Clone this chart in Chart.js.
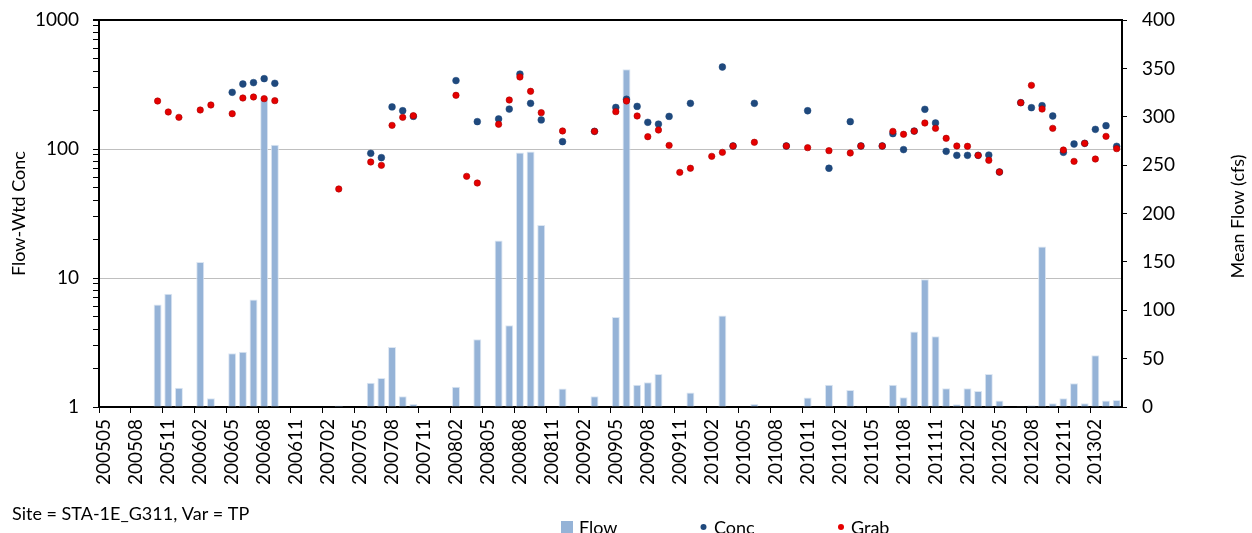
<!DOCTYPE html>
<html>
<head>
<meta charset="utf-8">
<script src="https://cdn.jsdelivr.net/npm/chart.js@4.4.0/dist/chart.umd.min.js"></script>
<style>
  html, body { margin: 0; padding: 0; background: #fff; overflow: hidden; }
  #wrap { width: 1252px; height: 533px; }
</style>
</head>
<body>
<div id="wrap"><canvas id="flowConc" width="1252" height="533"></canvas></div>
<script>
// Setup
const FONT = 'Lato, "Open Sans", sans-serif'
const n = null

const months = [
    '200505','200506','200507','200508','200509','200510','200511','200512',
    '200601','200602','200603','200604','200605','200606','200607','200608','200609','200610','200611','200612',
    '200701','200702','200703','200704','200705','200706','200707','200708','200709','200710','200711','200712',
    '200801','200802','200803','200804','200805','200806','200807','200808','200809','200810','200811','200812',
    '200901','200902','200903','200904','200905','200906','200907','200908','200909','200910','200911','200912',
    '201001','201002','201003','201004','201005','201006','201007','201008','201009','201010','201011','201012',
    '201101','201102','201103','201104','201105','201106','201107','201108','201109','201110','201111','201112',
    '201201','201202','201203','201204','201205','201206','201207','201208','201209','201210','201211','201212',
    '201301','201302','201303','201304'
]

// mean flow (cfs), right axis
const flow = [
    0, 0, 0, 0, 0, 106, 117, 20,
    0, 150, 9, 0, 55.5, 57, 111, 320, 271, 0, 0, 0,
    0, 0, 1.5, 0, 0, 25, 30, 62, 11, 3, 0, 0,
    0, 21, 0, 70, 0, 172, 84.5, 263, 264, 188, 0, 19,
    0, 0, 11, 0, 93, 349, 23, 25.5, 34, 0, 0, 15,
    0, 0, 94.5, 0, 0, 3, 0, 0, 0, 0, 9.7, 0,
    23, 0, 17.6, 0.7, 0, 0, 23, 10, 78, 132, 73, 19.3,
    2.8, 19.3, 16.6, 34, 6.6, 0, 0.7, 1.7, 166, 3.8, 9, 24.5,
    3.8, 53.4, 6.6, 7.2
]

// flow-weighted concentration, left log axis
const conc = [
    n, n, n, n, n, n, n, n,
    n, n, n, n, 275, 319, 327, 351, 323, n, n, n,
    n, n, n, n, n, 92.6, 85.7, 212, 198, 179, n, n,
    n, 339, n, 163, n, 171, 204, 381, 226, 168, n, 114,
    n, n, 137, n, 210, 243, 214, 161, 156, 179, n, 226,
    n, n, 432, 105.5, n, 226, n, n, 105.5, n, 198, n,
    70.9, n, 163, 105.5, n, 105.5, 131.5, 98.9, 137.7, 203, 159, 95.9,
    89.3, 89.3, 89.3, 89.8, 66.3, n, 228.6, 209, 216.7, 180.3, 94.2, 109.3,
    110.6, 142, 151.6, 104.9
]

// grab samples, left log axis
const grab = [
    n, n, n, n, n, 235.5, 193.6, 176,
    n, 200.6, 219.3, n, 187.8, 248.5, 253, 245.6, 237, n, n, n,
    n, n, 49, n, n, 79.3, 74.7, 152.5, 176, 181.3, n, n,
    n, 260.7, 61.4, 54.5, n, 155.4, 239.8, 361.6, 280, 191.4, n, 138,
    n, n, 137, n, 194.7, 235.5, 180.3, 124.6, 140.3, 106.7, 65.9, 70.9,
    n, 87.7, 94.2, 105.5, n, 112.7, n, n, 105.5, n, 102.4, n,
    97.1, n, 93.1, 105.5, n, 105.5, 137, 130, 137.7, 159, 144.6, 121,
    105.5, 104.9, 89.3, 81.7, 66.3, n, 228.6, 311.6, 204, 144.6, 98.2, 80.2,
    110.6, 83.6, 125.3, 100.6
]

const logMajors = [1, 10, 100, 1000]
const logTicks = []
for (const d of [1, 10, 100]) {
    for (let k = 1; k < 10; k++) logTicks.push(k * d)
}
logTicks.push(1000)

const BAR_BLUE = '#95B3D7'
const CONC_BLUE = '#1F497D'
const GRAB_RED = '#E60000'

// legend row + notes drawn under the axis, Excel style
const bottomNotes = {
    id: 'bottomNotes',
    afterDraw(chart) {
        const ctx = chart.ctx
        const ds = chart.data.datasets
        const midY = (chart.chartArea.top + chart.chartArea.bottom) / 2
        ctx.save()
        ctx.fillStyle = '#000'
        ctx.font = '18px ' + FONT
        ctx.textBaseline = 'middle'

        // right title reads bottom-to-top
        ctx.save()
        ctx.translate(1238, midY + 3)
        ctx.rotate(-Math.PI / 2)
        ctx.textAlign = 'center'
        ctx.fillText('Mean Flow (cfs)', 0, 0)
        ctx.restore()

        ctx.textAlign = 'left'
        ctx.fillText('Site = STA-1E_G311, Var = TP', 12, 514)

        // legend
        ctx.fillStyle = ds[0].backgroundColor
        ctx.fillRect(561, 521, 12, 12)
        ctx.fillStyle = '#000'
        ctx.fillText(ds[0].label, 579, 528)

        ctx.fillStyle = ds[1].backgroundColor
        ctx.beginPath(); ctx.arc(703.5, 527, 3, 0, Math.PI * 2); ctx.fill()
        ctx.fillStyle = '#000'
        ctx.fillText(ds[1].label, 714, 528)

        ctx.fillStyle = ds[2].backgroundColor
        ctx.beginPath(); ctx.arc(841, 527, 3, 0, Math.PI * 2); ctx.fill()
        ctx.fillStyle = '#000'
        ctx.fillText(ds[2].label, 851, 528)
        ctx.restore()
    }
}

// y axes: fixed width, no extra label padding above the plot
const fixY = w => s => {
    s.width = w
    s.paddingTop = 0
    s.paddingBottom = 0
}

// Config
const config = {
    type: 'bar',
    data: {
        labels: months,
        datasets: [{
            label: 'Flow',
            data: flow,
            yAxisID: 'yFlow',
            backgroundColor: BAR_BLUE,
            borderColor: '#DCE6F2',
            borderWidth: 1,
            barPercentage: 0.75,
            categoryPercentage: 1,
            order: 3
        }, {
            type: 'line',
            label: 'Conc',
            data: conc,
            yAxisID: 'yConc',
            showLine: false,
            pointRadius: 3.4,
            pointBackgroundColor: CONC_BLUE,
            pointBorderColor: CONC_BLUE,
            pointBorderWidth: 0.5,
            backgroundColor: CONC_BLUE,
            order: 2
        }, {
            type: 'line',
            label: 'Grab',
            data: grab,
            yAxisID: 'yConc',
            showLine: false,
            pointRadius: 3.2,
            pointBackgroundColor: GRAB_RED,
            pointBorderColor: '#A80000',
            pointBorderWidth: 0.6,
            backgroundColor: GRAB_RED,
            order: 1
        }]
    },
    options: {
        responsive: false,
        devicePixelRatio: 1,
        animation: false,
        layout: { padding: { top: 20, left: 0, right: 0, bottom: 0 } },
        plugins: {
            legend: { display: false },
            tooltip: { enabled: false }
        },
        scales: {
            x: {
                offset: true,
                afterFit: s => { s.height = 126 },
                border: { color: '#000', width: 2 },
                grid: {
                    offset: true,
                    drawOnChartArea: false,
                    tickLength: 6,
                    tickColor: c => (c.index % 3 === 0 ? '#000' : 'rgba(0,0,0,0)')
                },
                ticks: {
                    autoSkip: false,
                    minRotation: 90,
                    maxRotation: 90,
                    padding: 6,
                    color: '#000',
                    font: { family: FONT, size: 19 },
                    callback: function (v, i) { return i % 3 === 0 ? this.getLabelForValue(v) : '' }
                }
            },
            yConc: {
                type: 'logarithmic',
                position: 'left',
                min: 1,
                max: 1000,
                afterFit: fixY(99),
                afterBuildTicks: s => { s.ticks = logTicks.map(v => ({ value: v })) },
                border: { color: '#000', width: 2 },
                grid: {
                    tickLength: 6,
                    tickColor: '#000',
                    color: c => {
                        const v = c.tick && c.tick.value
                        if (v === 1000) return '#000'
                        if (v === 10 || v === 100) return '#BFBFBF'
                        return 'rgba(0,0,0,0)'
                    },
                    lineWidth: c => (c.tick && c.tick.value === 1000 ? 2 : 1)
                },
                ticks: {
                    autoSkip: false,
                    padding: 14,
                    color: '#000',
                    font: { family: FONT, size: 19 },
                    callback: v => (logMajors.includes(v) ? String(v) : '')
                },
                title: {
                    display: true,
                    text: 'Flow-Wtd Conc',
                    color: '#000',
                    font: { family: FONT, size: 18 },
                    padding: { top: 8, bottom: 0 }
                }
            },
            yFlow: {
                type: 'linear',
                position: 'right',
                min: 0,
                max: 400,
                afterFit: fixY(130),
                border: { color: '#000', width: 2 },
                grid: { drawOnChartArea: false, tickLength: 5, tickColor: '#000' },
                ticks: {
                    stepSize: 50,
                    padding: 15,
                    color: '#000',
                    font: { family: FONT, size: 19 }
                }
            }
        }
    },
    plugins: [bottomNotes]
}

// Action
const flowConcChart = new Chart(document.getElementById('flowConc'), config)
</script>
</body>
</html>
